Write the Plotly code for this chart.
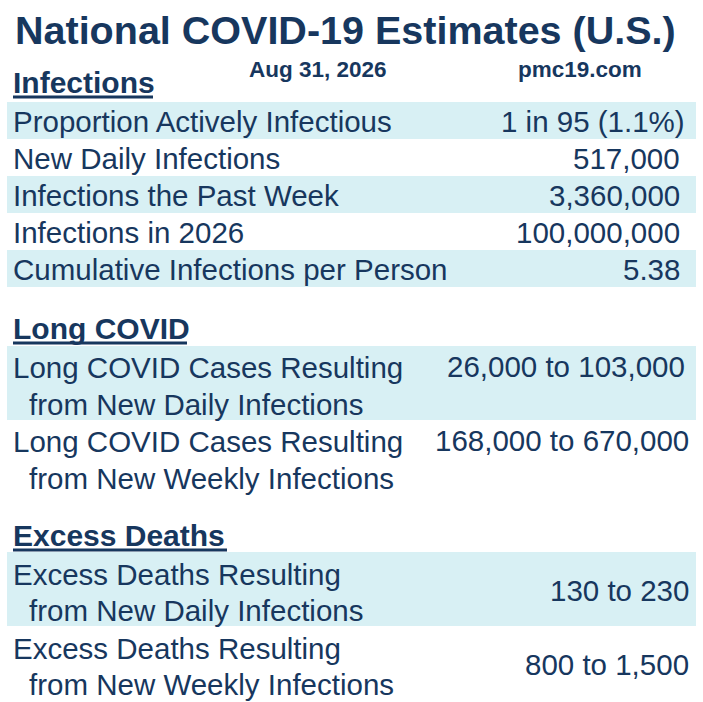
import plotly.graph_objects as go

W, H = 703, 702
NAVY = "#17375E"
BAND = "#D8F0F4"
FONT = "Liberation Sans, Arial, sans-serif"

title = "National COVID-19 Estimates (U.S.)"
date_text = "Aug 31, 2026"
site_text = "pmc19.com"

section_names = ["Infections", "Long COVID", "Excess Deaths"]

infection_labels = [
    "Proportion Actively Infectious",
    "New Daily Infections",
    "Infections the Past Week",
    "Infections in 2026",
    "Cumulative Infections per Person",
]
infection_values = ["1 in 95 (1.1%)", "517,000", "3,360,000", "100,000,000", "5.38"]

long_covid_labels = [
    ("Long COVID Cases Resulting", "from New Daily Infections"),
    ("Long COVID Cases Resulting", "from New Weekly Infections"),
]
long_covid_values = ["26,000 to 103,000", "168,000 to 670,000"]

death_labels = [
    ("Excess Deaths Resulting", "from New Daily Infections"),
    ("Excess Deaths Resulting", "from New Weekly Infections"),
]
death_values = ["130 to 230", "800 to 1,500"]

# layout constants (pixels, y downward)
LEFT = 12
INDENT = 28
BAND_X0, BAND_X1 = 7, 696
ROW_H = 37
TWO_ROW_H = 74
BODY = 29.5

shapes = []
annotations = []


def text(x, y, s, size=BODY, anchor="left", bold=False):
    if bold:
        s = "<b>" + s + "</b>"
    annotations.append(dict(
        x=x, y=y, xref="x", yref="y", text=s, showarrow=False,
        xanchor=anchor, yanchor="middle", borderpad=0,
        font=dict(family=FONT, size=size, color=NAVY),
    ))


def band(y0, y1):
    shapes.append(dict(type="rect", xref="x", yref="y", x0=BAND_X0, x1=BAND_X1,
                       y0=y0, y1=y1, fillcolor=BAND, line=dict(width=0), layer="below"))


def header(y, name, width):
    text(LEFT, y, name, size=30, bold=True)
    shapes.append(dict(type="line", xref="x", yref="y", x0=13, x1=13 + width,
                       y0=y + 15, y1=y + 15, line=dict(color=NAVY, width=3)))


# title block
text(345, 30, title, size=39.5, anchor="center", bold=True)
text(318, 69, date_text, size=22.5, anchor="center", bold=True)
text(580, 69, site_text, size=22.5, anchor="center", bold=True)

# Infections section
header(82, section_names[0], 140)
top = 102
for i, (lab, val) in enumerate(zip(infection_labels, infection_values)):
    y0 = top + i * ROW_H
    if i % 2 == 0:
        band(y0, y0 + ROW_H)
    text(LEFT, y0 + ROW_H / 2 + 1, lab)
    text(686 if i == 0 else 681, y0 + ROW_H / 2 + 1, val, anchor="right")

# Long COVID section
header(328, section_names[1], 174)
top = 346
for i, ((l1, l2), val) in enumerate(zip(long_covid_labels, long_covid_values)):
    y0 = top + i * TWO_ROW_H
    if i % 2 == 0:
        band(y0, y0 + TWO_ROW_H)
    text(LEFT, y0 + 21, l1)
    text(INDENT, y0 + 58, l2)
    text(686 if i == 0 else 690, y0 + 20, val, anchor="right")

# Excess deaths section
header(535, section_names[2], 214)
top = 552
for i, ((l1, l2), val) in enumerate(zip(death_labels, death_values)):
    y0 = top + i * TWO_ROW_H
    if i % 2 == 0:
        band(y0, y0 + TWO_ROW_H)
    text(LEFT, y0 + 22, l1)
    text(INDENT, y0 + 58, l2)
    text(690, y0 + 38, val, anchor="right")

fig = go.Figure()
fig.update_layout(
    width=W, height=H,
    margin=dict(l=0, r=0, t=0, b=0),
    paper_bgcolor="white", plot_bgcolor="white",
    xaxis=dict(range=[0, W], visible=False, fixedrange=True),
    yaxis=dict(range=[H, 0], visible=False, fixedrange=True),
    shapes=shapes, annotations=annotations, showlegend=False,
)
fig.write_html("out.html", config={"displayModeBar": False},
               post_script="document.body.style.margin='0px';")
